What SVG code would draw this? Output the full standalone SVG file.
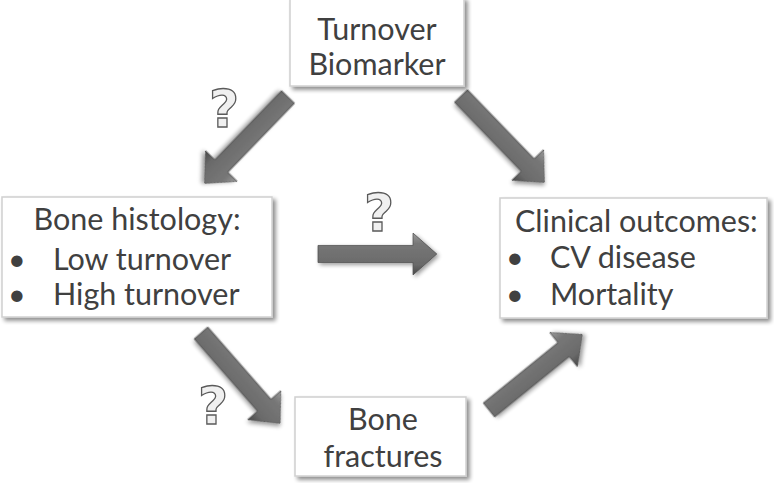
<svg xmlns="http://www.w3.org/2000/svg" width="774" height="483" viewBox="0 0 774 483">
<defs>
<linearGradient id="ag" x1="0" y1="0" x2="0" y2="1">
<stop offset="0" stop-color="#9a9a9a"/>
<stop offset="0.25" stop-color="#777777"/>
<stop offset="0.75" stop-color="#6a6a6a"/>
<stop offset="1" stop-color="#474747"/>
</linearGradient>
<filter id="sh" x="-20%" y="-20%" width="140%" height="140%">
<feGaussianBlur in="SourceAlpha" stdDeviation="2"/>
<feOffset dx="2" dy="2" result="b"/>
<feComponentTransfer><feFuncA type="linear" slope="0.4"/></feComponentTransfer>
<feMerge><feMergeNode/><feMergeNode in="SourceGraphic"/></feMerge>
</filter>
<filter id="bs" x="-10%" y="-10%" width="120%" height="130%">
<feGaussianBlur in="SourceAlpha" stdDeviation="2"/>
<feOffset dx="3" dy="3"/>
<feComponentTransfer><feFuncA type="linear" slope="0.45"/></feComponentTransfer>
<feMerge><feMergeNode/><feMergeNode in="SourceGraphic"/></feMerge>
</filter>
<path id="arr" d="M0,-9 L96,-9 L96,-22 L120,0 L96,22 L96,9 L0,9 Z"/>
</defs>
<style>
.box{fill:#ffffff;stroke:#d0d0d0;stroke-width:1.5;filter:url(#bs)}
.t{font-family:Lato,"Liberation Sans",sans-serif;font-size:30.5px;fill:#404040}
.a{fill:url(#ag);stroke:#505050;stroke-width:0.8;filter:url(#sh)}
.q{font-family:"DejaVu Sans",sans-serif;font-weight:bold;font-size:52px;fill:#f0f0f0;stroke:#5a5a5a;stroke-width:1.3}
</style>
<rect width="774" height="483" fill="#ffffff"/>
<g id="connectors">
<use href="#arr" class="a" transform="translate(288,97) rotate(134)"/>
<use href="#arr" class="a" transform="translate(461,96) rotate(46)"/>
<use href="#arr" class="a" transform="translate(318,254) scale(0.99,0.95)"/>
<use href="#arr" class="a" transform="translate(201,333) rotate(48.8)"/>
<use href="#arr" class="a" transform="translate(489,410) rotate(-39)"/>
<text class="q" x="209" y="127">?</text>
<text class="q" x="364" y="231">?</text>
<text class="q" x="198" y="424">?</text>
</g>
<g id="turnover">
<rect class="box" x="290" y="-2" width="174" height="88"/>
<text class="t" x="377" y="40" text-anchor="middle">Turnover</text>
<text class="t" x="377" y="75" text-anchor="middle">Biomarker</text>
</g>
<g id="histology">
<rect class="box" x="2" y="197" width="270" height="120"/>
<text class="t" x="137" y="230" text-anchor="middle">Bone histology:</text>
<text class="t" x="8" y="270">•</text>
<text class="t" x="53" y="270">Low turnover</text>
<text class="t" x="8" y="305">•</text>
<text class="t" x="53" y="305">High turnover</text>
</g>
<g id="outcomes">
<rect class="box" x="500" y="198" width="267" height="120"/>
<text class="t" x="515" y="232">Clinical outcomes:</text>
<text class="t" x="506" y="268">•</text>
<text class="t" x="550" y="268">CV disease</text>
<text class="t" x="506" y="305">•</text>
<text class="t" x="550" y="305">Mortality</text>
</g>
<g id="fractures">
<rect class="box" x="295" y="397" width="171" height="79"/>
<text class="t" x="383" y="430" text-anchor="middle">Bone</text>
<text class="t" x="383" y="467" text-anchor="middle">fractures</text>
</g>
</svg>
